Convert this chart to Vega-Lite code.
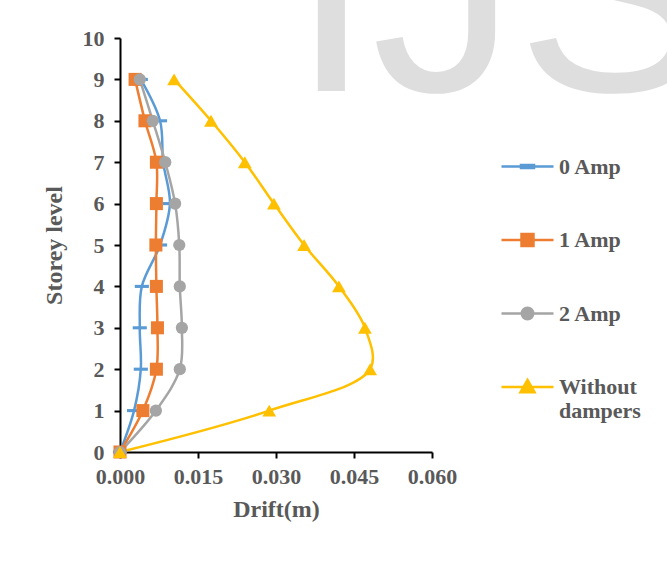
{
  "$schema": "https://vega.github.io/schema/vega-lite/v6.json",
  "autosize": {"type": "none"},
  "padding": {"left": 120, "top": 38, "right": 235, "bottom": 119},
  "width": 312,
  "height": 414,
  "background": "white",
  "config": {
    "view": {"stroke": null},
    "axis": {
      "grid": false,
      "domainColor": "#000000",
      "domainWidth": 2,
      "tickColor": "#000000",
      "tickWidth": 2,
      "tickSize": 6,
      "labelFont": "Liberation Serif",
      "labelFontWeight": "bold",
      "labelFontSize": 22,
      "labelColor": "#595959",
      "titleFont": "Liberation Serif",
      "titleFontWeight": "bold",
      "titleFontSize": 24,
      "titleColor": "#595959"
    }
  },
  "data": {
    "values": [
      {"series": "0 Amp", "storey": 0, "drift": 0},
      {"series": "0 Amp", "storey": 1, "drift": 0.0027},
      {"series": "0 Amp", "storey": 2, "drift": 0.004},
      {"series": "0 Amp", "storey": 3, "drift": 0.0038},
      {"series": "0 Amp", "storey": 4, "drift": 0.0042},
      {"series": "0 Amp", "storey": 5, "drift": 0.0077},
      {"series": "0 Amp", "storey": 6, "drift": 0.0096},
      {"series": "0 Amp", "storey": 7, "drift": 0.0083},
      {"series": "0 Amp", "storey": 8, "drift": 0.0077},
      {"series": "0 Amp", "storey": 9, "drift": 0.004},
      {"series": "1 Amp", "storey": 0, "drift": 0},
      {"series": "1 Amp", "storey": 1, "drift": 0.0044},
      {"series": "1 Amp", "storey": 2, "drift": 0.007},
      {"series": "1 Amp", "storey": 3, "drift": 0.0072},
      {"series": "1 Amp", "storey": 4, "drift": 0.007},
      {"series": "1 Amp", "storey": 5, "drift": 0.0069},
      {"series": "1 Amp", "storey": 6, "drift": 0.007},
      {"series": "1 Amp", "storey": 7, "drift": 0.007},
      {"series": "1 Amp", "storey": 8, "drift": 0.0048},
      {"series": "1 Amp", "storey": 9, "drift": 0.0029},
      {"series": "2 Amp", "storey": 0, "drift": 0},
      {"series": "2 Amp", "storey": 1, "drift": 0.0069},
      {"series": "2 Amp", "storey": 2, "drift": 0.0115},
      {"series": "2 Amp", "storey": 3, "drift": 0.0119},
      {"series": "2 Amp", "storey": 4, "drift": 0.0115},
      {"series": "2 Amp", "storey": 5, "drift": 0.0114},
      {"series": "2 Amp", "storey": 6, "drift": 0.0106},
      {"series": "2 Amp", "storey": 7, "drift": 0.0087},
      {"series": "2 Amp", "storey": 8, "drift": 0.0063},
      {"series": "2 Amp", "storey": 9, "drift": 0.0038},
      {"series": "Without dampers", "storey": 0, "drift": 0},
      {"series": "Without dampers", "storey": 1, "drift": 0.0287},
      {"series": "Without dampers", "storey": 2, "drift": 0.0481},
      {"series": "Without dampers", "storey": 3, "drift": 0.0471},
      {"series": "Without dampers", "storey": 4, "drift": 0.0421},
      {"series": "Without dampers", "storey": 5, "drift": 0.0354},
      {"series": "Without dampers", "storey": 6, "drift": 0.0296},
      {"series": "Without dampers", "storey": 7, "drift": 0.024},
      {"series": "Without dampers", "storey": 8, "drift": 0.0175},
      {"series": "Without dampers", "storey": 9, "drift": 0.0104}
    ]
  },
  "encoding": {
    "x": {
      "field": "drift",
      "type": "quantitative",
      "scale": {"domain": [0, 0.06], "nice": false, "zero": true},
      "axis": {"title": "Drift(m)", "values": [0, 0.015, 0.03, 0.045, 0.06], "format": ".3f", "labelPadding": 8, "titlePadding": 10, "labelFlush": false, "labelOverlap": false}
    },
    "y": {
      "field": "storey",
      "type": "quantitative",
      "scale": {"domain": [0, 10], "nice": false},
      "axis": {"title": "Storey level", "values": [0,1,2,3,4,5,6,7,8,9,10], "labelPadding": 10, "titlePadding": 16, "labelFlush": false, "labelOverlap": false}
    }
  },
  "layer": [
    {
      "data": {"values": [{"watermark": "IJS", "wx": 0.0329, "wy": 8.72}]},
      "mark": {"type": "text", "font": "Liberation Sans", "fontSize": 290, "color": "#dedede", "align": "left", "baseline": "alphabetic"},
      "encoding": {
        "text": {"field": "watermark"},
        "x": {"field": "wx", "type": "quantitative"},
        "y": {"field": "wy", "type": "quantitative"}
      }
    },
    {
      "mark": {"type": "line", "interpolate": "catmull-rom", "strokeWidth": 2.5},
      "encoding": {
        "order": {"field": "storey", "type": "quantitative"},
        "color": {
          "field": "series",
          "type": "nominal",
          "scale": {"domain": ["0 Amp", "1 Amp", "2 Amp", "Without dampers"], "range": ["#5B9BD5", "#ED7D31", "#A5A5A5", "#FFC000"]},
          "legend": {
            "orient": "none",
            "legendX": 380,
            "legendY": 101,
            "title": null,
            "symbolSize": 2704,
            "symbolStrokeWidth": 2.5,
            "symbolType": "M-1,0H1",
            "rowPadding": 34.5,
            "labelFont": "Liberation Serif",
            "labelFontWeight": "bold",
            "labelFontSize": 22,
            "labelColor": "#595959",
            "labelOffset": 4,
            "labelLimit": 200,
            "labelExpr": "datum.label == 'Without dampers' ? ['Without', 'dampers'] : datum.label",
            "encode": {
              "symbols": {
                "update": {
                  "shape": {"signal": "datum.value == '0 Amp' ? 'M-1,0H1M-0.25,-0.06H0.25V0.06H-0.25Z' : datum.value == '1 Amp' ? 'M-1,0H1M-0.23,-0.23H0.23V0.23H-0.23Z' : datum.value == '2 Amp' ? 'M-1,0H1M0.22,0A0.22,0.22 0 1,1 -0.22,0A0.22,0.22 0 1,1 0.22,0Z' : 'M-1,0H1M0,-0.27L0.27,0.2H-0.27Z'"},
                  "fill": {"scale": "color", "field": "value"},
                  "fillOpacity": {"value": 1},
                  "opacity": {"value": 1}
                }
              }
            }
          }
        }
      }
    },
    {
      "transform": [{"filter": "datum.series == '0 Amp'"}],
      "mark": {"type": "point", "filled": true, "opacity": 1, "shape": "M-1,-0.22H1V0.22H-1Z", "size": 200, "color": "#5B9BD5"}
    },
    {
      "transform": [{"filter": "datum.series == '1 Amp'"}],
      "mark": {"type": "point", "filled": true, "opacity": 1, "shape": "square", "size": 170, "color": "#ED7D31"}
    },
    {
      "transform": [{"filter": "datum.series == '2 Amp'"}],
      "mark": {"type": "point", "filled": true, "opacity": 1, "shape": "circle", "size": 150, "color": "#A5A5A5"}
    },
    {
      "transform": [{"filter": "datum.series == 'Without dampers'"}],
      "mark": {"type": "point", "filled": true, "opacity": 1, "shape": "triangle-up", "size": 190, "color": "#FFC000"}
    }
  ]
}
